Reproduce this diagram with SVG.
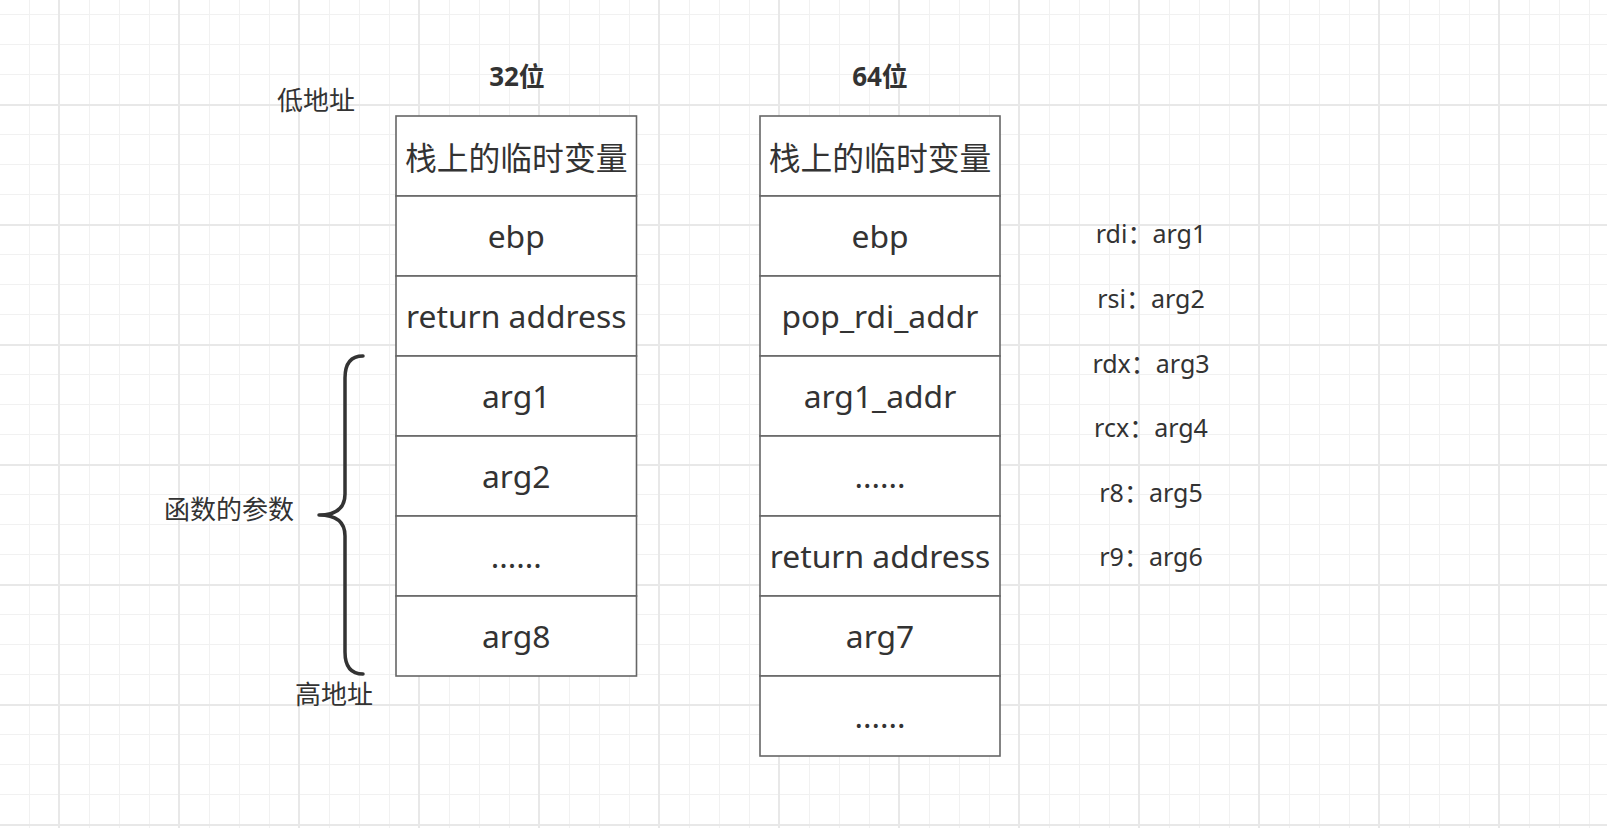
<svg xmlns="http://www.w3.org/2000/svg" width="1607" height="828" viewBox="0 0 1607 828">
  <defs>
    <pattern id="gridMinor" width="30" height="30" patternUnits="userSpaceOnUse">
      <path d="M29.5 0V30M0 14.5H30" fill="none" stroke="#f1f1f1" stroke-width="1"/>
    </pattern>
    <pattern id="gridMajor" width="120" height="120" patternUnits="userSpaceOnUse">
      <path d="M59 0V120M0 105H120" fill="none" stroke="#e8e8e8" stroke-width="2"/>
    </pattern>
  </defs>
  <style>
    .cell { fill: #ffffff; stroke: #666666; stroke-width: 1.6; }
    .txt { font-family: "Noto Sans", "Noto Sans CJK SC", sans-serif; fill: #333333; text-anchor: middle; }
    .lat { font-size: 31.8px; }
    .cjk { font-size: 31.8px; font-family: "Noto Sans CJK SC", sans-serif; }
    .lbl { font-size: 26px; font-family: "Noto Sans CJK SC", sans-serif; }
    .reg { font-size: 25px; }
    .title { font-size: 26px; font-weight: bold; }
    .brace { fill: none; stroke: #333333; stroke-width: 3.5; stroke-linecap: round; stroke-linejoin: round; }
  </style>

  <rect x="0" y="0" width="1607" height="828" fill="#ffffff"/>
  <rect x="0" y="0" width="1607" height="828" fill="url(#gridMinor)"/>
  <rect x="0" y="0" width="1607" height="828" fill="url(#gridMajor)"/>

  <!-- titles and address labels -->
  <g id="title32"><text class="txt title" x="517" y="85.5">32位</text></g>
  <g id="title64"><text class="txt title" x="880" y="85.5">64位</text></g>
  <g id="lowAddr"><text class="txt lbl" x="316" y="110">低地址</text></g>
  <g id="highAddr"><text class="txt lbl" x="334" y="704">高地址</text></g>
  <g id="funcArgs"><text class="txt lbl" x="229" y="519">函数的参数</text></g>

  <!-- 32-bit stack -->
  <g id="s32_0"><rect class="cell" x="396" y="116" width="240.5" height="80"/><text class="txt cjk" x="516.2" y="170">栈上的临时变量</text></g>
  <g id="s32_1"><rect class="cell" x="396" y="196" width="240.5" height="80"/><text class="txt lat" x="516.2" y="247.5">ebp</text></g>
  <g id="s32_2"><rect class="cell" x="396" y="276" width="240.5" height="80"/><text class="txt lat" x="516.2" y="327.5">return address</text></g>
  <g id="s32_3"><rect class="cell" x="396" y="356" width="240.5" height="80"/><text class="txt lat" x="516.2" y="407.5">arg1</text></g>
  <g id="s32_4"><rect class="cell" x="396" y="436" width="240.5" height="80"/><text class="txt lat" x="516.2" y="487.5">arg2</text></g>
  <g id="s32_5"><rect class="cell" x="396" y="516" width="240.5" height="80"/><text class="txt lat" x="516.2" y="568">......</text></g>
  <g id="s32_6"><rect class="cell" x="396" y="596" width="240.5" height="80"/><text class="txt lat" x="516.2" y="647.5">arg8</text></g>

  <!-- 64-bit stack -->
  <g id="s64_0"><rect class="cell" x="760" y="116" width="240" height="80"/><text class="txt cjk" x="880" y="170">栈上的临时变量</text></g>
  <g id="s64_1"><rect class="cell" x="760" y="196" width="240" height="80"/><text class="txt lat" x="880" y="247.5">ebp</text></g>
  <g id="s64_2"><rect class="cell" x="760" y="276" width="240" height="80"/><text class="txt lat" x="880" y="327.5">pop_rdi_addr</text></g>
  <g id="s64_3"><rect class="cell" x="760" y="356" width="240" height="80"/><text class="txt lat" x="880" y="407.5">arg1_addr</text></g>
  <g id="s64_4"><rect class="cell" x="760" y="436" width="240" height="80"/><text class="txt lat" x="880" y="488">......</text></g>
  <g id="s64_5"><rect class="cell" x="760" y="516" width="240" height="80"/><text class="txt lat" x="880" y="567.5">return address</text></g>
  <g id="s64_6"><rect class="cell" x="760" y="596" width="240" height="80"/><text class="txt lat" x="880" y="647.5">arg7</text></g>
  <g id="s64_7"><rect class="cell" x="760" y="676" width="240" height="80"/><text class="txt lat" x="880" y="728">......</text></g>

  <!-- register labels -->
  <g id="reg_rdi"><text class="txt reg" x="1151" y="243">rdi：arg1</text></g>
  <g id="reg_rsi"><text class="txt reg" x="1151" y="308">rsi：arg2</text></g>
  <g id="reg_rdx"><text class="txt reg" x="1151" y="372.5">rdx：arg3</text></g>
  <g id="reg_rcx"><text class="txt reg" x="1151" y="437">rcx：arg4</text></g>
  <g id="reg_r8"><text class="txt reg" x="1151" y="501.5">r8：arg5</text></g>
  <g id="reg_r9"><text class="txt reg" x="1151" y="566">r9：arg6</text></g>

  <!-- curly brace -->
  <g id="connectors">
    <path class="brace" d="M363 356 Q345 356 345 378 L345 494 Q345 515 319 515 Q345 515 345 536 L345 652 Q345 674 363 674"/>
  </g>
</svg>
